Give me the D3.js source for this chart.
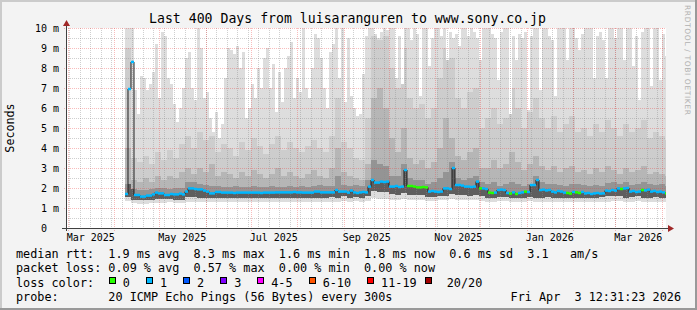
<!DOCTYPE html>
<html>
<head>
<meta charset="utf-8">
<script src="https://cdn.jsdelivr.net/npm/d3@7"></script>
<style>
html, body { margin: 0; padding: 0; background: #f3f3f3; }
svg { display: block; }
text { font-family: "DejaVu Sans Mono", monospace; fill: #000; white-space: pre; }
</style>
</head>
<body>
<div id="chart"></div>
<script>
// SmokePing style latency graph, 400 days

var titleText = "Last 400 Days from luisaranguren to www.sony.co.jp";
var endTime = new Date(2026, 3, 3, 12, 31, 23);
var startTime = new Date(endTime.getTime() - 400 * 864e5);
var dataStart = new Date(2025, 3, 7, 20, 30);   // first stored row (older rows expired)

// 2-day rows: highest ping (ms), median rtt (ms), lost pings out of 20
var maxRtt = [
  10.5,10.5,10.5,6.9,5.7,7.6,7.5,6.9,7.2,7.8,
  9.2,6.5,9.8,9.6,7.5,7.2,6.2,5.3,6.0,7.0,
  8.5,8.8,7.0,6.4,10.5,9.0,6.5,6.8,5.5,4.8,
  5.8,4.5,5.2,7.5,9.0,8.9,8.7,9.1,8.0,8.8,
  5.5,6.0,7.2,6.5,8.0,7.0,8.5,9.0,7.0,8.2,
  5.8,7.8,6.3,8.0,8.6,9.3,6.5,7.5,6.8,10.5,
  7.0,6.5,8.0,9.7,9.5,8.5,7.0,6.0,8.8,9.2,
  10.5,7.5,10.5,6.3,9.5,
  6.6,6.0,5.6,5.7,7.7,9.6,10.5,10.5,9.7,9.5,
  9.8,10.5,9.9,10.5,10.5,7.5,9.6,7.2,10.5,10.5,
  9.4,10.5,9.7,6.6,10.5,10.5,8.1,9.5,10.5,10.5,
  9.6,10.5,8.4,9.8,9.5,9.7,9.1,10.5,10.5,9.6,
  10.5,9.8,9.5,8.4,10.5,10.5,10.5,9.7,9.5,7.4,
  9.8,10.5,10.5,5.7,9.6,8.4,9.7,9.5,9.8,5.9,
  9.6,10.5,10.5,6.9,10.5,10.5,9.6,9.4,6.6,10.5,
  10.5,10.5,8.4,10.5,10.5,9.5,8.9,9.7,10.5,10.5,
  10.5,7.5,9.6,9.8,9.4,7.5,10.5,10.5,9.5,10.5,
  10.5,8.4,10.5,10.5,8.1,9.6,6.4,9.8,10.5,10.5,
  7.1,10.5,10.5,7.4,9.7,8.6
];

var medianRtt = [
  1.70,6.95,8.30,1.65,1.65,1.57,1.57,1.62,1.62,1.68,
  1.77,1.73,1.73,1.65,1.65,1.70,1.68,1.68,1.72,1.68,
  1.82,1.98,1.98,1.95,1.93,1.93,1.87,1.82,1.73,1.73,
  1.80,1.80,1.77,1.77,1.77,1.77,1.75,1.77,1.77,1.77,
  1.77,1.77,1.77,1.77,1.77,1.75,1.77,1.77,1.77,1.77,
  1.78,1.78,1.78,1.78,1.78,1.78,1.80,1.78,1.78,1.77,
  1.77,1.77,1.77,1.82,1.82,1.78,1.78,1.78,1.78,1.78,
  1.90,1.82,1.82,1.82,1.77,1.87,1.78,1.75,1.78,1.80,
  1.78,2.07,2.40,2.27,2.27,2.32,2.30,2.32,2.07,2.07,
  2.10,2.05,2.07,2.90,2.10,2.10,2.07,2.03,2.03,2.05,
  2.03,1.82,1.85,1.82,1.80,1.82,1.98,1.98,1.95,3.00,
  2.15,2.15,2.12,2.07,2.07,2.05,2.07,2.32,1.98,1.98,
  1.95,1.77,1.75,1.77,1.90,1.92,1.90,1.75,1.72,1.78,
  1.70,1.75,1.78,1.82,1.80,2.15,2.15,2.40,1.90,1.92,
  1.88,1.90,1.82,1.78,1.85,1.82,1.77,1.75,1.72,1.80,
  1.78,1.75,1.80,1.73,1.75,1.70,1.73,1.75,1.72,1.73,
  1.87,1.85,1.90,1.87,1.98,1.95,1.98,2.00,1.82,1.85,
  1.80,1.82,1.90,1.88,1.92,1.82,1.85,1.80,1.82,1.78,
  1.73
];

var lostPings = [
  1,1,1,1,1,1,1,1,1,1, 1,1,1,1,1,1,1,1,1,1, 1,1,1,1,1,1,1,1,1,1,
  1,1,1,1,1,1,1,1,1,1, 1,1,1,1,1,1,1,1,1,1, 1,1,1,1,1,1,1,1,1,1,
  1,1,1,1,1,1,1,1,1,1, 1,1,1,1,1,1,1,1,1,1, 1,1,1,1,1,1,1,1,1,1,
  1,1,1,1,0,0,0,0,0,0, 0,1,1,1,1,1,1,1,1,1, 1,1,1,1,1,1,1,1,0,1,
  1,0,0,1,1,1,1,1,0,1, 0,1,1,0,1,1,1,1,1,1, 1,1,1,1,1,1,1,0,0,1,
  0,0,1,1,1,1,1,1,1,1, 1,1,1,1,1,0,1,1,1,1, 1,1,0,1,1,1,1,1,1,1,
  0
];

// 4-day rows: lowest ping, lower edge of the dense smoke, and three upper smoke levels (ms)
var minRtt = [
  1.35,1.25,1.22,1.22,1.25,1.25,1.25,1.28,1.25,1.25,
  1.30,1.32,1.30,1.28,1.28,1.30,1.30,1.28,1.30,1.30,
  1.30,1.32,1.30,1.32,1.30,1.30,1.32,1.30,1.30,1.32,
  1.30,1.32,1.30,1.30,1.32,1.30,1.35,1.32,1.35,1.32,
  1.35,1.50,1.45,1.45,1.40,1.40,1.45,1.38,1.40,1.40,
  1.35,1.35,1.38,1.40,1.45,1.40,1.40,1.38,1.40,1.35,
  1.30,1.32,1.35,1.35,1.30,1.28,1.30,1.35,1.30,1.32,
  1.32,1.30,1.30,1.28,1.30,1.30,1.28,1.28,1.30,1.30,
  1.32,1.35,1.35,1.30,1.32,1.35,1.30,1.30,1.32,1.30,1.30
];
var lowRtt = [
  1.55,1.42,1.40,1.40,1.42,1.45,1.45,1.45,1.42,1.42,
  1.55,1.55,1.50,1.48,1.48,1.50,1.50,1.48,1.50,1.50,
  1.50,1.50,1.50,1.52,1.50,1.50,1.52,1.50,1.52,1.52,
  1.50,1.52,1.50,1.52,1.55,1.52,1.58,1.52,1.55,1.52,
  1.60,1.85,1.80,1.80,1.70,1.65,1.75,1.65,1.65,1.65,
  1.55,1.55,1.60,1.62,1.70,1.65,1.65,1.62,1.65,1.58,
  1.52,1.50,1.55,1.55,1.50,1.48,1.50,1.55,1.50,1.52,
  1.55,1.52,1.50,1.48,1.50,1.50,1.48,1.48,1.52,1.55,
  1.58,1.60,1.58,1.52,1.55,1.58,1.52,1.50,1.55,1.52,1.50
];
var upper1 = [
  9.0,3.5,3.3,3.6,3.2,3.8,3.4,3.9,3.5,4.2,
  4.6,4.0,4.8,4.4,4.6,3.8,4.2,4.0,3.6,4.3,
  3.9,4.5,4.1,3.7,4.2,4.6,3.9,4.3,4.0,3.8,
  4.1,4.4,4.0,3.8,4.6,6.5,4.3,4.0,3.5,3.4,
  5.5,9.6,9.4,9.6,8.0,7.0,9.0,6.5,6.0,6.2,
  5.5,6.0,7.5,9.0,8.5,6.5,6.0,6.8,7.0,5.0,
  5.5,6.0,5.2,5.5,7.0,6.0,5.0,5.8,6.5,5.5,
  5.0,5.6,4.8,5.2,5.6,4.8,5.0,4.6,5.2,4.8,
  5.4,5.0,4.6,5.2,4.8,5.0,5.4,4.5,4.8,4.6,4.4
];
var upper2 = [
  4.0,2.4,2.3,2.5,2.3,2.6,2.4,2.6,2.5,2.8,
  3.0,2.7,3.0,2.8,3.2,2.6,2.8,2.7,2.5,2.8,
  2.6,2.9,2.7,2.5,2.7,3.0,2.6,2.8,2.6,2.5,
  2.7,2.9,2.6,2.5,3.0,4.0,2.8,2.6,2.5,2.4,
  3.2,6.5,7.0,6.0,4.5,3.8,5.0,3.5,3.2,3.4,
  3.0,3.3,4.0,5.5,4.5,3.6,3.4,3.8,4.0,3.0,
  3.0,3.4,3.0,3.2,3.8,3.3,2.9,3.2,3.6,3.1,
  2.9,3.1,2.8,3.0,3.1,2.8,2.9,2.7,3.0,2.8,
  3.1,2.9,2.7,3.0,2.8,2.9,3.1,2.7,2.8,2.7,2.6
];
var upper3 = [
  2.2,1.95,1.90,1.92,1.95,2.00,1.98,1.95,2.00,2.00,
  2.30,2.30,2.20,2.15,2.10,2.10,2.05,2.05,2.10,2.05,
  2.05,2.10,2.05,2.05,2.10,2.05,2.05,2.10,2.05,2.10,
  2.05,2.10,2.15,2.10,2.10,2.60,2.15,2.10,2.15,2.10,
  2.40,3.40,3.20,3.10,2.60,2.60,3.20,2.50,2.40,2.40,
  2.20,2.30,2.50,2.80,3.30,2.50,2.40,2.50,2.60,2.30,
  2.20,2.30,2.10,2.20,2.30,2.20,2.10,2.20,2.60,2.30,
  2.20,2.20,2.15,2.10,2.20,2.20,2.15,2.10,2.15,2.10,
  2.25,2.30,2.20,2.30,2.15,2.20,2.30,2.20,2.15,2.20,2.10
];

// legend
var rttStats = [["1.9", "ms avg"], ["8.3", "ms max"], ["1.6", "ms min"], ["1.8", "ms now"], ["0.6", "ms sd"]];
var amPerSec = "3.1";
var lossStats = [["0.09", "avg"], ["0.57", "max"], ["0.00", "min"], ["0.00", "now"]];
var lossLabels = ["0", "1", "2", "3", "4-5", "6-10", "11-19", "20/20"];
var lossColors = ["#26ff00", "#00b8ff", "#0059ff", "#7e00ff", "#ff00ff", "#ff5500", "#ff0000", "#a10000"];
var probeText = "20 ICMP Echo Pings (56 Bytes) every 300s";
var stampText = "Fri Apr  3 12:31:23 2026";

// outer to inner smoke shades
var smokeFills = ["#dddddd", "#cdcdcd", "#b6b6b6", "#949494", "#5e5e5e"];

// geometry
var W = 697, H = 310;
var plot = {left: 66, top: 28, width: 600, height: 200};
var cw = 7.12;

var x = d3.scaleTime().domain([startTime, endTime]).range([plot.left, plot.left + plot.width]);
var y = d3.scaleLinear().domain([0, 10]).range([plot.top + plot.height, plot.top]);

var svg = d3.select("#chart").append("svg")
    .attr("width", W)
    .attr("height", H);

// background with rrdtool style shading
svg.append("rect").attr("width", W).attr("height", H).attr("fill", "#f3f3f3");
svg.append("path").attr("d", "M0,0H" + W + "V2H2V" + H + "H0Z").attr("fill", "#cbcbcb");
svg.append("path").attr("d", "M" + W + ",0V" + H + "H0V" + (H - 2) + "H" + (W - 2) + "V0Z").attr("fill", "#999999");

svg.append("rect")
    .attr("x", plot.left).attr("y", plot.top)
    .attr("width", plot.width).attr("height", plot.height)
    .attr("fill", "#ffffff");

svg.append("clipPath").attr("id", "plotclip")
  .append("rect")
    .attr("x", plot.left).attr("y", plot.top)
    .attr("width", plot.width).attr("height", plot.height);

// smoke
function binDate(j) { return new Date(dataStart.getTime() + j * 2 * 864e5); }
var nBins = medianRtt.length;

var smoke = d3.range(nBins).map(function(j) {
  var k = Math.floor(j / 2);
  var t0 = maxRtt[j],
      t1 = Math.min(upper1[k], t0),
      t2 = Math.min(upper2[k], t1),
      t3 = Math.min(upper3[k], t2);
  return {date: binDate(j), bands: [
    [minRtt[k], t0], [lowRtt[k], t1], [lowRtt[k], t2], [lowRtt[k], t3],
    [lowRtt[k], Math.max(lowRtt[k], Math.min(medianRtt[j], t3))]
  ]};
});
smoke.push({date: binDate(nBins), bands: smoke[nBins - 1].bands});

var smokeG = svg.append("g").attr("clip-path", "url(#plotclip)");
smokeFills.forEach(function(fill, i) {
  var area = d3.area()
      .curve(d3.curveStepAfter)
      .x(function(d) { return x(d.date); })
      .y0(function(d) { return y(d.bands[i][0]); })
      .y1(function(d) { return y(Math.min(d.bands[i][1], 10.5)); });
  smokeG.append("path")
      .datum(smoke)
      .attr("d", area)
      .attr("fill", fill)
      .attr("shape-rendering", "crispEdges");
});

// grid
var grid = svg.append("g");
var minorColor = "rgba(140,140,140,0.42)", majorColor = "rgba(235,60,60,0.34)";

y.ticks(20).filter(function(v) { return v % 1 !== 0; }).forEach(function(v) {
  grid.append("line")
      .attr("x1", plot.left).attr("x2", plot.left + plot.width)
      .attr("y1", y(v) + 0.5).attr("y2", y(v) + 0.5)
      .attr("stroke", minorColor).attr("stroke-dasharray", "1,1");
});
x.ticks(d3.timeWeek).forEach(function(t) {
  var px = Math.floor(x(t)) + 0.5;
  grid.append("line")
      .attr("x1", px).attr("x2", px)
      .attr("y1", plot.top).attr("y2", plot.top + plot.height)
      .attr("stroke", minorColor).attr("stroke-dasharray", "1,1");
});
d3.range(1, 11).forEach(function(v) {
  grid.append("line")
      .attr("x1", plot.left - 2).attr("x2", plot.left + plot.width)
      .attr("y1", y(v) + 0.5).attr("y2", y(v) + 0.5)
      .attr("stroke", majorColor).attr("stroke-dasharray", "1,1");
});
x.ticks(d3.timeMonth).forEach(function(t) {
  var px = Math.floor(x(t)) + 0.5;
  grid.append("line")
      .attr("x1", px).attr("x2", px)
      .attr("y1", plot.top).attr("y2", plot.top + plot.height + 3)
      .attr("stroke", majorColor).attr("stroke-dasharray", "1,1");
});

// median line: dark step line under loss-coloured plateaus
var medPts = medianRtt.map(function(v, j) { return {date: binDate(j), v: v, loss: lostPings[j]}; });
var medG = svg.append("g").attr("clip-path", "url(#plotclip)");
medG.append("path")
    .datum(medPts.concat([{date: binDate(nBins), v: medianRtt[nBins - 1]}]))
    .attr("d", d3.line().curve(d3.curveStepAfter)
        .x(function(d) { return x(d.date); })
        .y(function(d) { return y(d.v); }))
    .attr("fill", "none")
    .attr("stroke", "#202020")
    .attr("stroke-width", 1);

var runs = [];
medPts.forEach(function(d, j) {
  var last = runs[runs.length - 1];
  if (last && last.loss === d.loss && last.v === d.v) last.end = j + 1;
  else runs.push({start: j, end: j + 1, v: d.v, loss: d.loss});
});
medG.selectAll("path.med")
  .data(runs)
  .enter().append("path")
    .attr("class", "med")
    .attr("d", function(r) { return "M" + x(binDate(r.start)) + "," + y(r.v) + "H" + x(binDate(r.end)); })
    .attr("stroke", function(r) { return lossColors[r.loss]; })
    .attr("stroke-width", 2.5)
    .attr("fill", "none");

// axes
var axisG = svg.append("g");
axisG.append("line")
    .attr("x1", 62).attr("x2", 669)
    .attr("y1", y(0) + 0.5).attr("y2", y(0) + 0.5)
    .attr("stroke", "#404040");
axisG.append("line")
    .attr("x1", plot.left + 0.5).attr("x2", plot.left + 0.5)
    .attr("y1", y(0) + 3).attr("y2", 24)
    .attr("stroke", "#404040");
axisG.append("path")
    .attr("d", "M" + (plot.left + 0.5) + ",20L" + (plot.left + 4) + ",26L" + (plot.left - 3) + ",26Z")
    .attr("fill", "#a02828");
axisG.append("path")
    .attr("d", "M674," + (y(0) + 0.5) + "L668," + (y(0) - 3) + "L668," + (y(0) + 4) + "Z")
    .attr("fill", "#a02828");

// y labels
d3.range(0, 11).forEach(function(v) {
  svg.append("text")
      .attr("x", 59)
      .attr("y", y(v) + 3.5)
      .attr("text-anchor", "end")
      .style("font-size", "10px")
      .text(v === 0 ? "0\u00a0\u00a0" : v + " m");
});

// x labels, centred half a month after the month start
x.ticks(d3.timeMonth.every(2)).forEach(function(t) {
  svg.append("text")
      .attr("x", x(d3.timeDay.offset(t, 15)))
      .attr("y", 241)
      .attr("text-anchor", "middle")
      .style("font-size", "10px")
      .text(d3.timeFormat("%b %Y")(t));
});

// titles
svg.append("text")
    .attr("x", 347.5).attr("y", 23)
    .attr("text-anchor", "middle")
    .style("font-size", "13.2px")
    .text(titleText);

svg.append("text")
    .attr("transform", "translate(14,128) rotate(-90)")
    .attr("text-anchor", "middle")
    .style("font-size", "11.7px")
    .text("Seconds");

svg.append("text")
    .attr("transform", "translate(685,5) rotate(90)")
    .attr("textLength", 110)
    .attr("lengthAdjust", "spacing")
    .style("font-family", "'DejaVu Sans', sans-serif")
    .style("font-size", "7.5px")
    .style("fill", "#b0b0b0")
    .text("RRDTOOL / TOBI OETIKER");

// legend
var legend = svg.append("g").style("font-size", "11.8px");
legend.append("text").attr("x", 16).attr("y", 257.5)
    .text("median rtt:  " + rttStats.map(function(d) { return d[0] + " " + d[1]; }).join("  ") + "  " + amPerSec + "   am/s");
legend.append("text").attr("x", 16).attr("y", 272)
    .text("packet loss: " + lossStats.map(function(d) { return d[0] + " % " + d[1]; }).join("  "));
legend.append("text").attr("x", 16).attr("y", 286.5).text("loss color:");

var tx = 16 + 15 * cw;
lossLabels.forEach(function(lab, i) {
  var boxOff = i === lossLabels.length - 1 ? 22 : 14;
  legend.append("rect")
      .attr("x", Math.round(tx - boxOff) + 0.5).attr("y", 277.5)
      .attr("width", 6).attr("height", 6)
      .attr("fill", lossColors[i])
      .attr("stroke", "#000");
  legend.append("text").attr("x", tx).attr("y", 286.5).text(lab);
  tx += lab.length * cw + 30;
});

legend.append("text").attr("x", 16).attr("y", 300.5).text("probe:       " + probeText);
legend.append("text").attr("x", 681).attr("y", 300.5).attr("text-anchor", "end").text(stampText);
</script>
</body>
</html>
